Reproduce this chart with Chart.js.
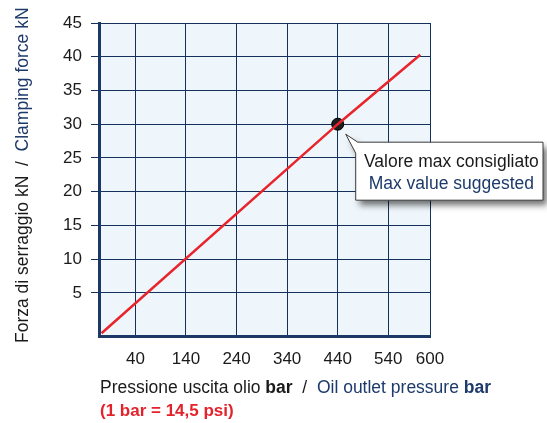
<!DOCTYPE html>
<html>
<head>
<meta charset="utf-8">
<script src="https://cdn.jsdelivr.net/npm/chart.js@4/dist/chart.umd.min.js"></script>
<style>
  html, body { margin: 0; padding: 0; background: #ffffff; }
  #wrap { width: 547px; height: 423px; position: relative; }
</style>
</head>
<body>
<div id="wrap"><canvas id="c" width="547" height="423"></canvas></div>
<script>
// ---- data ----
const xTickValues = [40, 140, 240, 340, 440, 540, 600];
const yTickValues = [5, 10, 15, 20, 25, 30, 35, 40, 45];
const lineX = [-27, 440, 586];
const lineY = [-1, 30, 40.3];
const maxPointX = [440];
const maxPointY = [30];
const yTitleRuns = [
  { text: 'Forza di serraggio kN  /  ', bold: false, color: '#1a1a1a' },
  { text: 'Clamping force kN', bold: false, color: '#1d3a6b' }
];
const xTitleRuns = [
  { text: 'Pressione uscita olio ', bold: false, color: '#1a1a1a' },
  { text: 'bar', bold: true, color: '#1a1a1a' },
  { text: '  /  ', bold: false, color: '#1a1a1a' },
  { text: 'Oil outlet pressure ', bold: false, color: '#1d3a6b' },
  { text: 'bar', bold: true, color: '#1d3a6b' }
];
const noteText = '(1 bar = 14,5 psi)';
const calloutLines = ['Valore max consigliato', 'Max value suggested'];

// x axis is drawn with a stretched last segment (540 -> 600), as in the original
const xBreakValues = [-32, 540, 600];
const xBreakFractions = [0, 0.874, 1];

const FONT = "'Liberation Sans', Arial, Helvetica, sans-serif";
const NAVY = '#15305a';

class StretchScale extends Chart.LinearScale {
  getPixelForValue(value) {
    let dec;
    const v = xBreakValues, f = xBreakFractions;
    if (value <= v[0]) {
      dec = f[0] + (value - v[0]) * (f[1] - f[0]) / (v[1] - v[0]);
    } else {
      let i = 0;
      while (i < v.length - 2 && value > v[i + 1]) i++;
      dec = f[i] + (value - v[i]) * (f[i + 1] - f[i]) / (v[i + 1] - v[i]);
    }
    return this.getPixelForDecimal(dec);
  }
}
StretchScale.id = 'stretchLinear';
StretchScale.defaults = Chart.LinearScale.defaults;
Chart.register(StretchScale);

function drawRuns(ctx, runs, x, y, size) {
  let cx = x;
  ctx.textBaseline = 'alphabetic';
  ctx.textAlign = 'left';
  for (const r of runs) {
    ctx.font = (r.bold ? 'bold ' : '') + size + 'px ' + FONT;
    ctx.fillStyle = r.color;
    ctx.fillText(r.text, cx, y);
    cx += ctx.measureText(r.text).width;
  }
  return cx - x;
}

const decor = {
  id: 'decor',
  beforeDraw(chart) {
    const { ctx, chartArea: a } = chart;
    ctx.save();
    ctx.fillStyle = '#eef6fb';
    ctx.fillRect(a.left, a.top, a.right - a.left, a.bottom - a.top);
    ctx.restore();
  },
  afterDraw(chart) {
    const { ctx } = chart;
    ctx.save();
    // y title (rotated)
    ctx.translate(28, 343);
    ctx.rotate(-Math.PI / 2);
    drawRuns(ctx, yTitleRuns, 0, 0, 17.5);
    ctx.restore();

    ctx.save();
    drawRuns(ctx, xTitleRuns, 100, 393, 17.5);
    ctx.font = 'bold 17px ' + FONT;
    ctx.fillStyle = '#e3222b';
    ctx.textAlign = 'left';
    ctx.fillText(noteText, 100, 416);
    ctx.restore();

    // callout
    const p = chart.getDatasetMeta(1).data[0];
    const bx = p.x + 18, by = p.y + 18, bw = 543 - (p.x + 18), bh = 58;
    const tx = p.x + 8, ty = p.y + 10;
    ctx.save();
    ctx.beginPath();
    ctx.moveTo(bx + 2, by);
    ctx.lineTo(bx + bw, by);
    ctx.lineTo(bx + bw, by + bh);
    ctx.lineTo(bx, by + bh);
    ctx.lineTo(bx, by + 11);
    ctx.lineTo(tx, ty);
    ctx.closePath();
    ctx.shadowColor = 'rgba(0,0,0,0.55)';
    ctx.shadowBlur = 6;
    ctx.shadowOffsetX = 4;
    ctx.shadowOffsetY = 5;
    ctx.fillStyle = '#ffffff';
    ctx.fill();
    ctx.shadowColor = 'transparent';
    ctx.lineWidth = 1;
    ctx.strokeStyle = '#3a3a3a';
    ctx.stroke();
    ctx.textAlign = 'center';
    ctx.textBaseline = 'alphabetic';
    ctx.font = '17.5px ' + FONT;
    ctx.fillStyle = '#1a1a1a';
    const cx = bx + bw / 2 + 2;
    ctx.fillText(calloutLines[0], cx, by + 25);
    ctx.fillStyle = '#1d3a6b';
    ctx.fillText(calloutLines[1], cx, by + 47);
    ctx.restore();
  }
};

Chart.defaults.font.family = FONT;

new Chart(document.getElementById('c'), {
  type: 'line',
  data: {
    datasets: [
      {
        data: lineX.map((x, i) => ({ x, y: lineY[i] })),
        borderColor: '#e8242c',
        borderWidth: 2.5,
        pointRadius: 0,
        tension: 0,
        fill: false
      },
      {
        data: maxPointX.map((x, i) => ({ x, y: maxPointY[i] })),
        showLine: false,
        pointRadius: 6,
        pointBackgroundColor: '#1e1e1e',
        pointBorderColor: '#000000',
        pointBorderWidth: 1
      }
    ]
  },
  plugins: [decor],
  options: {
    responsive: false,
    animation: false,
    events: [],
    layout: { padding: { left: 0, right: 117, top: 23, bottom: 0 } },
    plugins: { legend: { display: false }, tooltip: { enabled: false } },
    scales: {
      x: {
        type: 'stretchLinear',
        min: -32,
        max: 600,
        afterBuildTicks: s => { s.ticks = xTickValues.map(v => ({ value: v })); },
        afterFit: s => { s.height = 87; },
        grid: { color: NAVY, lineWidth: 1, drawTicks: false },
        border: { display: true, color: '#1b3866', width: 3 },
        ticks: { color: '#1a1a1a', font: { size: 17 }, padding: 13, maxRotation: 0, autoSkip: false,
                 callback: v => String(v) }
      },
      y: {
        type: 'linear',
        min: -1.4,
        max: 45,
        afterBuildTicks: s => { s.ticks = yTickValues.map(v => ({ value: v })); },
        afterFit: s => { s.width = 99; },
        grid: { color: NAVY, lineWidth: 1, drawTicks: true, tickLength: 8 },
        border: { display: true, color: '#1b3866', width: 3 },
        ticks: { color: '#1a1a1a', font: { size: 17 }, padding: 9, callback: v => String(v) }
      }
    }
  }
});
</script>
</body>
</html>
